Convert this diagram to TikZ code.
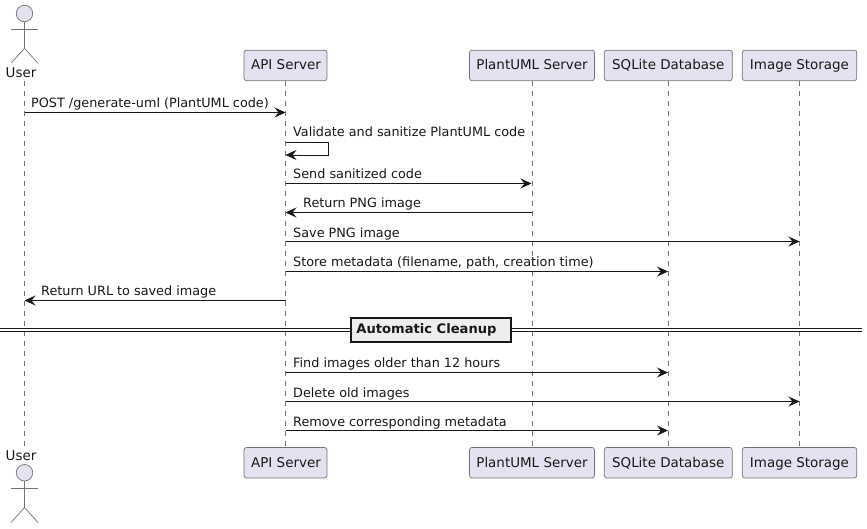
\documentclass[tikz,border=0pt]{standalone}
\usepackage{fontspec}
\setmainfont{DejaVu Sans}
\usetikzlibrary{arrows.meta}
\definecolor{boxfill}{HTML}{E2E2F0}
\definecolor{ink}{HTML}{181818}
\definecolor{cleanfill}{HTML}{EEEEEE}
\newcommand{\nomesize}{\fontsize{13.45}{16}\selectfont}
\newcommand{\msgsize}{\fontsize{12.8}{15}\selectfont}
\newcommand{\cleansize}{\fontsize{13.1}{15}\selectfont}

\begin{document}
\begin{tikzpicture}[x=1pt,y=-1pt]
\tikzstyle{box}=[draw=ink!60,fill=boxfill,line width=.7pt,rectangle,rounded corners=2.5pt,inner sep=0pt,minimum height=30.5pt,text height=12pt,text depth=3pt,font=\nomesize,text=ink]
\tikzstyle{nome}=[inner sep=0pt,font=\nomesize,text=ink]
\tikzstyle{msg}=[inner sep=0pt,anchor=base west,font=\msgsize,text=ink]
\tikzstyle{life}=[draw=ink!60,line width=.6pt,dash pattern=on 5pt off 5pt]
\tikzstyle{call}=[draw=ink,line width=.9pt,-{Stealth[length=11pt,width=10pt,inset=4pt]}]
\tikzstyle{limb}=[draw=ink!60,line width=.7pt]
\tikzstyle{head}=[draw=ink!60,fill=boxfill,line width=.7pt,circle,inner sep=0pt,minimum size=16.5pt]
\useasboundingbox (0,0) rectangle (867,528);

% Top row of participants
\node (userT) at (21,73) [nome] {User};
\node (apiT) at (285.5,65.4) [box,minimum width=83pt] {\hspace{1pt}API Server};
\node (plantT) at (532,65.4) [box,minimum width=125pt] {PlantUML Server};
\node (sqlT) at (668.3,65.4) [box,minimum width=128pt] {SQLite Database};
\node (imgT) at (799.5,65.4) [box,minimum width=114.5pt] {Image Storage};

% Bottom row of participants
\node (userB) at (21,456) [nome] {User};
\node (apiB) at (285.5,462.7) [box,minimum width=83pt] {\hspace{1pt}API Server};
\node (plantB) at (532,462.7) [box,minimum width=125pt] {PlantUML Server};
\node (sqlB) at (668.3,462.7) [box,minimum width=128pt] {SQLite Database};
\node (imgB) at (799.5,462.7) [box,minimum width=114.5pt] {Image Storage};

% Lifelines
\coordinate (userL) at (24.5,81);
\coordinate (userM) at (24.5,447);
\draw[life] (userL) -- (userM);
\draw[life] (apiT) -- (apiB);
\draw[life] (plantT) -- (plantB);
\draw[life] (sqlT) -- (sqlB);
\draw[life] (imgT) -- (imgB);

% Actor at the top
\node (headT) at (24.5,13.5) [head] {};
\coordinate (hipT) at (24.5,48.3);
\coordinate (armLT) at (11,29.3);
\coordinate (armRT) at (38,29.3);
\coordinate (legLT) at (11,63.3);
\coordinate (legRT) at (38,63.3);
\draw[limb] (headT) -- (hipT);
\draw[limb] (armLT) -- (armRT);
\draw[limb] (legLT) -- (hipT) -- (legRT);

% Actor at the bottom
\node (headB) at (24.5,472.7) [head] {};
\coordinate (hipB) at (24.5,507.5);
\coordinate (armLB) at (11,488.5);
\coordinate (armRB) at (38,488.5);
\coordinate (legLB) at (11,522.5);
\coordinate (legRB) at (38,522.5);
\draw[limb] (headB) -- (hipB);
\draw[limb] (armLB) -- (armRB);
\draw[limb] (legLB) -- (hipB) -- (legRB);

% Request handling
\coordinate (post1) at (24.5,112.5);
\coordinate (post2) at (285.5,112.5);
\draw[call] (post1) -- (post2);
\node[msg] (postL) at (31,107) {POST /generate-uml (PlantUML code)};

\coordinate (val1) at (285.5,142.5);
\coordinate (val2) at (328.5,142.5);
\coordinate (val3) at (328.5,155);
\coordinate (val4) at (285.5,155);
\draw[call] (val1) -- (val2) -- (val3) -- (val4);
\node[msg] (valL) at (293,136.5) {Validate and sanitize PlantUML code};

\coordinate (send1) at (285.5,183.5);
\coordinate (send2) at (531.5,183.5);
\draw[call] (send1) -- (send2);
\node[msg] (sendL) at (293,178.5) {Send sanitized code};

\coordinate (png1) at (531.5,212.5);
\coordinate (png2) at (285.5,212.5);
\draw[call] (png1) -- (png2);
\node[msg] (pngL) at (303,207.5) {Return PNG image};

\coordinate (save1) at (285.5,241.5);
\coordinate (save2) at (799.5,241.5);
\draw[call] (save1) -- (save2);
\node[msg] (saveL) at (293,237) {Save PNG image};

\coordinate (meta1) at (285.5,271.5);
\coordinate (meta2) at (668,271.5);
\draw[call] (meta1) -- (meta2);
\node[msg] (metaL) at (293,266) {Store metadata (filename, path, creation time)};

\coordinate (url1) at (285.5,300.5);
\coordinate (url2) at (24.5,300.5);
\draw[call] (url1) -- (url2);
\node[msg] (urlL) at (41,295) {Return URL to saved image};

% Divider
\coordinate (divL1) at (0,328.7);
\coordinate (divR1) at (862,328.7);
\coordinate (divL2) at (0,331.3);
\coordinate (divR2) at (862,331.3);
\draw[draw=ink,line width=.9pt] (divL1) -- (divR1);
\draw[draw=ink,line width=.9pt] (divL2) -- (divR2);
\node (clean) at (431,330) [draw=ink,fill=cleanfill,line width=1.6pt,rectangle,minimum width=160pt,minimum height=24pt,inner sep=0pt,text height=10pt,text depth=3pt,font=\cleansize\bfseries,text=ink] {\hspace{-9pt}Automatic Cleanup};

% Cleanup messages
\coordinate (find1) at (285.5,372.5);
\coordinate (find2) at (668,372.5);
\draw[call] (find1) -- (find2);
\node[msg] (findL) at (293,367) {Find images older than 12 hours};

\coordinate (del1) at (285.5,401.5);
\coordinate (del2) at (799.5,401.5);
\draw[call] (del1) -- (del2);
\node[msg] (delL) at (293,397) {Delete old images};

\coordinate (rem1) at (285.5,430.5);
\coordinate (rem2) at (668,430.5);
\draw[call] (rem1) -- (rem2);
\node[msg] (remL) at (293,426) {Remove corresponding metadata};
\end{tikzpicture}
\end{document}
